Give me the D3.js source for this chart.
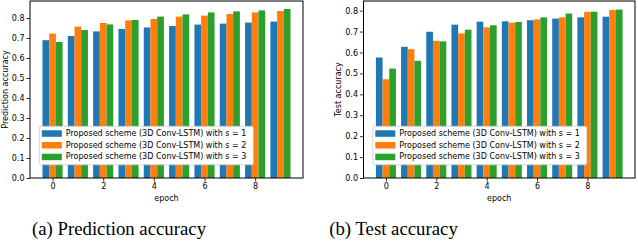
<!DOCTYPE html>
<html>
<head>
<meta charset="utf-8">
<script src="https://cdn.jsdelivr.net/npm/d3@7"></script>
<style>
  body { margin: 0; background: #fff; }
  svg { display: block; }
</style>
</head>
<body>
<svg width="638" height="248"></svg>
<script>
const svg = d3.select("svg");

// data
const epochs = [0, 1, 2, 3, 4, 5, 6, 7, 8, 9];
const predS1 = [0.689, 0.710, 0.733, 0.745, 0.753, 0.760, 0.767, 0.772, 0.777, 0.782];
const predS2 = [0.722, 0.757, 0.775, 0.788, 0.795, 0.807, 0.812, 0.820, 0.828, 0.835];
const predS3 = [0.680, 0.740, 0.768, 0.790, 0.807, 0.818, 0.828, 0.833, 0.838, 0.845];
const testS1 = [0.576, 0.627, 0.699, 0.733, 0.747, 0.749, 0.754, 0.762, 0.768, 0.771];
const testS2 = [0.472, 0.616, 0.656, 0.691, 0.720, 0.742, 0.758, 0.768, 0.794, 0.803];
const testS3 = [0.523, 0.560, 0.653, 0.709, 0.730, 0.746, 0.768, 0.786, 0.795, 0.805];
const yTicks = [0, 0.1, 0.2, 0.3, 0.4, 0.5, 0.6, 0.7, 0.8];
const xTicks = [0, 2, 4, 6, 8];
const seriesNames = [
  "Proposed scheme (3D Conv-LSTM) with s = 1",
  "Proposed scheme (3D Conv-LSTM) with s = 2",
  "Proposed scheme (3D Conv-LSTM) with s = 3"
];
const colors = ["#1f77b4", "#ff7f0e", "#2ca02c"];

const barW = 0.265;
const font = "DejaVu Sans, sans-serif";

function drawPanel(opts) {
  const { left, right, top, bottom, yMax, series, yLabel, yLabelX, caption, captionX } = opts;

  const x = d3.scaleLinear().domain([-0.89, 9.89]).range([left, right]);
  const y = d3.scaleLinear().domain([0, yMax]).range([bottom, top]);

  const g = svg.append("g");

  series.forEach((vals, k) => {
    g.append("g").selectAll("rect")
      .data(epochs)
      .enter().append("rect")
      .attr("x", d => x(d + (k - 1.5) * barW))
      .attr("width", x(barW) - x(0))
      .attr("y", d => y(vals[d]))
      .attr("height", d => y(0) - y(vals[d]))
      .attr("fill", colors[k]);
  });

  // axes
  const ax = g.append("g")
    .attr("transform", `translate(0,${bottom})`)
    .call(d3.axisBottom(x).tickValues(xTicks).tickSize(3.5).tickPadding(2).tickFormat(d3.format("d")));
  const ay = g.append("g")
    .attr("transform", `translate(${left},0)`)
    .call(d3.axisLeft(y).tickValues(yTicks).tickSize(3.5).tickPadding(2).tickFormat(d3.format(".1f")));
  [ax, ay].forEach(a => {
    a.select(".domain").remove();
    a.selectAll("line").attr("stroke", "#000").attr("stroke-width", 0.8);
    a.selectAll("text").attr("fill", "#000").style("font-family", font).style("font-size", "8px");
  });

  g.append("rect")
    .attr("x", left).attr("y", top)
    .attr("width", right - left).attr("height", bottom - top)
    .attr("fill", "none").attr("stroke", "#000").attr("stroke-width", 1);

  g.append("text")
    .attr("x", (left + right) / 2).attr("y", 201)
    .attr("text-anchor", "middle")
    .style("font-family", font).style("font-size", "8px")
    .text("epoch");

  g.append("text")
    .attr("transform", `translate(${yLabelX},${(top + bottom) / 2}) rotate(-90)`)
    .attr("text-anchor", "middle")
    .attr("dy", "0.35em")
    .style("font-family", font).style("font-size", "8px")
    .text(yLabel);

  // legend
  const lg = g.append("g").attr("transform", `translate(${left + 9.3},126.3)`);
  lg.append("rect")
    .attr("width", 214).attr("height", 38.5)
    .attr("rx", 2)
    .attr("fill", "#fff").attr("stroke", "#cccccc").attr("stroke-width", 0.8);
  seriesNames.forEach((name, k) => {
    const cy = 7 + k * 11.7;
    lg.append("rect")
      .attr("x", 2.5).attr("y", cy - 3)
      .attr("width", 20).attr("height", 6.5)
      .attr("fill", colors[k]);
    lg.append("text")
      .attr("x", 26.5).attr("y", cy)
      .attr("dy", "0.35em")
      .style("font-family", font).style("font-size", "8px")
      .text(name);
  });

  svg.append("text")
    .attr("x", captionX).attr("y", 235)
    .attr("text-anchor", "middle")
    .style("font-family", "Liberation Serif, Times New Roman, serif")
    .style("font-size", "18.8px")
    .text(caption);
}

drawPanel({
  left: 30, right: 303, top: 1, bottom: 178, yMax: 0.885,
  series: [predS1, predS2, predS3],
  yLabel: "Prediction accuracy", yLabelX: 5,
  caption: "(a) Prediction accuracy", captionX: 119
});

drawPanel({
  left: 363.5, right: 635, top: 1, bottom: 178, yMax: 0.846,
  series: [testS1, testS2, testS3],
  yLabel: "Test accuracy", yLabelX: 338.5,
  caption: "(b) Test accuracy", captionX: 393.5
});
</script>
</body>
</html>
